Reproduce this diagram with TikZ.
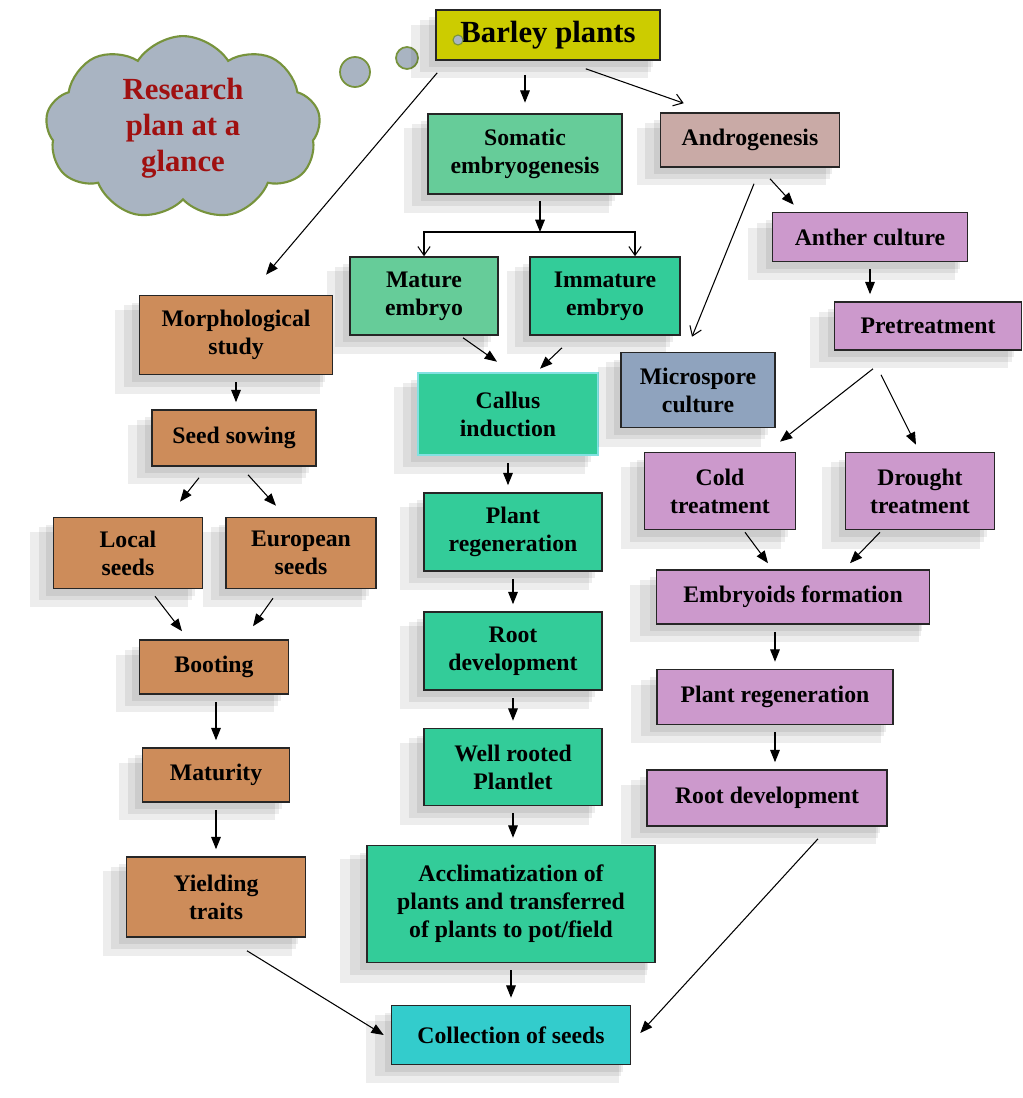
\documentclass[tikz,border=0pt]{standalone}
\usepackage{fontspec}
\setmainfont{Liberation Serif}
\usetikzlibrary{arrows.meta, shapes.symbols, shadows, calc}

\definecolor{barley}{RGB}{204,204,0}
\definecolor{somgreen}{RGB}{102,204,153}
\definecolor{deepgreen}{RGB}{51,204,153}
\definecolor{seedcyan}{RGB}{51,204,204}
\definecolor{androrose}{RGB}{201,170,166}
\definecolor{microblue}{RGB}{143,163,190}
\definecolor{violet}{RGB}{204,153,204}
\definecolor{morphbrown}{RGB}{205,140,90}
\definecolor{cloudfill}{RGB}{169,180,194}
\definecolor{cloudrim}{RGB}{119,147,60}
\definecolor{plantext}{RGB}{160,16,16}
\definecolor{callusrim}{RGB}{130,225,225}

\begin{document}
\begin{tikzpicture}[
        x = 0.02cm, y = -0.02cm,
        >= {Triangle[length = 7pt, width = 5.5pt]},
        every node/.style = {font = \bfseries\fontsize{13.5}{16}\selectfont, align = center},
        box/.style = {rectangle, draw = black!85, line width = 0.9pt, inner sep = 0pt,
                      general shadow = {fill = black, opacity = .07, shadow xshift = -10pt, shadow yshift = -9pt, shadow scale = 1.06},
                      general shadow = {fill = black, opacity = .07, shadow xshift = -7pt, shadow yshift = -6pt, shadow scale = 1.03},
                      general shadow = {fill = black, opacity = .07, shadow xshift = -4pt, shadow yshift = -4pt}},
        bubble/.style = {circle, draw = cloudrim, fill = cloudfill, line width = 1pt, inner sep = 0pt},
        link/.style = {->, line width = 0.6pt},
        down/.style = {->, line width = 0.6pt, shorten <= 4pt, shorten >= 4pt},
        open/.style = {-{Straight Barb[length = 5pt, width = 7pt]}, line width = 0.6pt}
    ]

    \useasboundingbox (0,0) rectangle (1022,1098);

    % thought cloud
    \node[cloud, cloud puffs = 9, cloud puff arc = 115, cloud ignores aspect,
          draw = cloudrim, fill = cloudfill, line width = 1.2pt,
          minimum width = 5.5cm, minimum height = 3.1cm, text = plantext,
          font = \bfseries\fontsize{17.5}{20.5}\selectfont] (cloud) at (183,128) {Research\\plan at a\\glance};
    \node[bubble, minimum size = 0.6cm]  (bubA) at (355,72) {};
    \node[bubble, minimum size = 0.44cm] (bubB) at (407,58) {};

    % top
    \node[box, fill = barley, minimum width = 4.48cm, minimum height = 1.0cm,
          font = \bfseries\fontsize{17.5}{20}\selectfont] (barley) at (548,35) {Barley plants};
    \node[bubble, minimum size = 0.2cm, line width = 0.6pt] (bubC) at (458,40) {};

    % somatic embryogenesis
    \node[box, fill = somgreen, minimum width = 3.88cm, minimum height = 1.6cm]  (somatic)  at (525,154) {Somatic\\embryogenesis};
    \node[box, fill = somgreen, minimum width = 2.96cm, minimum height = 1.56cm] (mature)   at (424,296) {Mature\\embryo};
    \node[box, fill = deepgreen, minimum width = 3.0cm, minimum height = 1.56cm] (immature) at (605,296) {Immature\\embryo};
    \node[box, fill = deepgreen, draw = callusrim, line width = 1.5pt,
          minimum width = 3.6cm, minimum height = 1.64cm]                         (callus)   at (508,414) {Callus\\induction};
    \node[box, fill = deepgreen, minimum width = 3.56cm, minimum height = 1.56cm] (regenM)  at (513,532) {Plant\\regeneration};
    \node[box, fill = deepgreen, minimum width = 3.56cm, minimum height = 1.56cm] (rootM)   at (513,651) {Root\\development};
    \node[box, fill = deepgreen, minimum width = 3.56cm, minimum height = 1.54cm] (plantlet) at (513,767) {Well rooted\\Plantlet};
    \node[box, fill = deepgreen, minimum width = 5.76cm, minimum height = 2.34cm] (acclim)  at (511,904) {Acclimatization of\\plants and transferred\\of plants to pot/field};
    \node[box, fill = seedcyan, minimum width = 4.78cm, minimum height = 1.18cm]  (collect) at (511,1035) {Collection of seeds};

    % androgenesis
    \node[box, fill = androrose, minimum width = 3.58cm, minimum height = 1.08cm] (andro)    at (750,140) {Androgenesis};
    \node[box, fill = microblue, minimum width = 3.08cm, minimum height = 1.5cm]  (micro)    at (698,390) {Microspore\\culture};
    \node[box, fill = violet, minimum width = 3.9cm, minimum height = 0.98cm]     (anther)   at (870,237) {Anther culture};
    \node[box, fill = violet, minimum width = 3.74cm, minimum height = 0.96cm]    (pretreat) at (928,326) {Pretreatment};
    \node[box, fill = violet, minimum width = 3.02cm, minimum height = 1.54cm]    (cold)     at (720,491) {Cold\\treatment};
    \node[box, fill = violet, minimum width = 2.98cm, minimum height = 1.54cm]    (drought)  at (920,491) {Drought\\treatment};
    \node[box, fill = violet, minimum width = 5.46cm, minimum height = 1.08cm]    (embryoid) at (793,597) {Embryoids formation};
    \node[box, fill = violet, minimum width = 4.72cm, minimum height = 1.1cm]     (regenR)   at (775,697) {Plant regeneration};
    \node[box, fill = violet, minimum width = 4.8cm, minimum height = 1.12cm]     (rootR)    at (767,798) {Root development};

    % morphological study
    \node[box, fill = morphbrown, minimum width = 3.86cm, minimum height = 1.58cm] (morph)    at (236,335) {Morphological\\study};
    \node[box, fill = morphbrown, minimum width = 3.28cm, minimum height = 1.12cm] (sowing)   at (234,438) {Seed sowing};
    \node[box, fill = morphbrown, minimum width = 2.98cm, minimum height = 1.42cm] (local)    at (128,553) {Local\\seeds};
    \node[box, fill = morphbrown, minimum width = 3.0cm, minimum height = 1.42cm]  (european) at (301,553) {European\\seeds};
    \node[box, fill = morphbrown, minimum width = 2.98cm, minimum height = 1.08cm] (booting)  at (214,667) {Booting};
    \node[box, fill = morphbrown, minimum width = 2.94cm, minimum height = 1.08cm] (maturity) at (216,775) {Maturity};
    \node[box, fill = morphbrown, minimum width = 3.58cm, minimum height = 1.6cm]  (yielding) at (216,897) {Yielding\\traits};

    \coordinate (split) at (540,232);

    % from the barley plants
    \draw[down, shorten <= 8pt, shorten >= 6pt] (somatic.north |- barley.south) -- (somatic.north);
    \draw[open] ($(barley.south east)+(-75,8)$) -- ($(andro.north west)+(24,-9)$);
    \draw[link] ($(barley.south west)+(2,12)$) -- ($(morph.north)+(30,-20)$);

    % middle column
    \draw[link] ($(somatic.south)+(15,6)$) -- (split);
    \draw[open] (split) -| (mature.north);
    \draw[open] (split) -| ($(immature.north)+(30,0)$);
    \draw[link] ($(mature.south)+(39,2)$) -- ($(callus.north)+(-11,-10)$);
    \draw[link] ($(immature.south)+(-43,12)$) -- ($(callus.north)+(32,-3)$);
    \draw[down] (callus.south)   -- (callus.south |- regenM.north);
    \draw[down] (regenM.south)   -- (rootM.north);
    \draw[down] (rootM.south)    -- (plantlet.north);
    \draw[down] (plantlet.south) -- (plantlet.south |- acclim.north);
    \draw[down] (acclim.south)   -- (collect.north);

    % right column
    \draw[open] ($(andro.south)+(4,16)$) -- ($(micro.north)+(-6,-15)$);
    \draw[link] ($(andro.south)+(20,11)$) -- ($(anther.north west)+(22,-7)$);
    \draw[down] (anther.south) -- (anther.south |- pretreat.north);
    \draw[link] ($(pretreat.south)+(-55,18)$) -- ($(cold.north)+(60,-10)$);
    \draw[link] ($(pretreat.south)+(-47,24)$) -- ($(drought.north)+(-4,-7)$);
    \draw[link] ($(cold.south)+(25,2)$) -- ($(embryoid.north)+(-25,-6)$);
    \draw[link] ($(drought.south)+(-40,2)$) -- ($(embryoid.north)+(57,-6)$);
    \draw[down] (embryoid.south -| regenR.north) -- (regenR.north);
    \draw[down] (regenR.south) -- (regenR.south |- rootR.north);
    \draw[link] ($(rootR.south)+(51,12)$) -- ($(collect.east)+(9,-2)$);

    % left column
    \draw[down] (morph.south) -- (morph.south |- sowing.north);
    \draw[link] ($(sowing.south)+(-35,11)$) -- ($(local.north)+(52,-15)$);
    \draw[link] ($(sowing.south)+(14,8)$) -- ($(european.north)+(-25,-11)$);
    \draw[link] ($(local.south)+(27,7)$) -- ($(booting.north)+(-32,-8)$);
    \draw[link] ($(european.south)+(-28,9)$) -- ($(booting.north)+(39,-13)$);
    \draw[down] (booting.south -| maturity.north) -- (maturity.north);
    \draw[down] (maturity.south) -- (yielding.north);
    \draw[link] ($(yielding.south)+(31,13)$) -- ($(collect.west)+(-7,0)$);

\end{tikzpicture}
\end{document}
